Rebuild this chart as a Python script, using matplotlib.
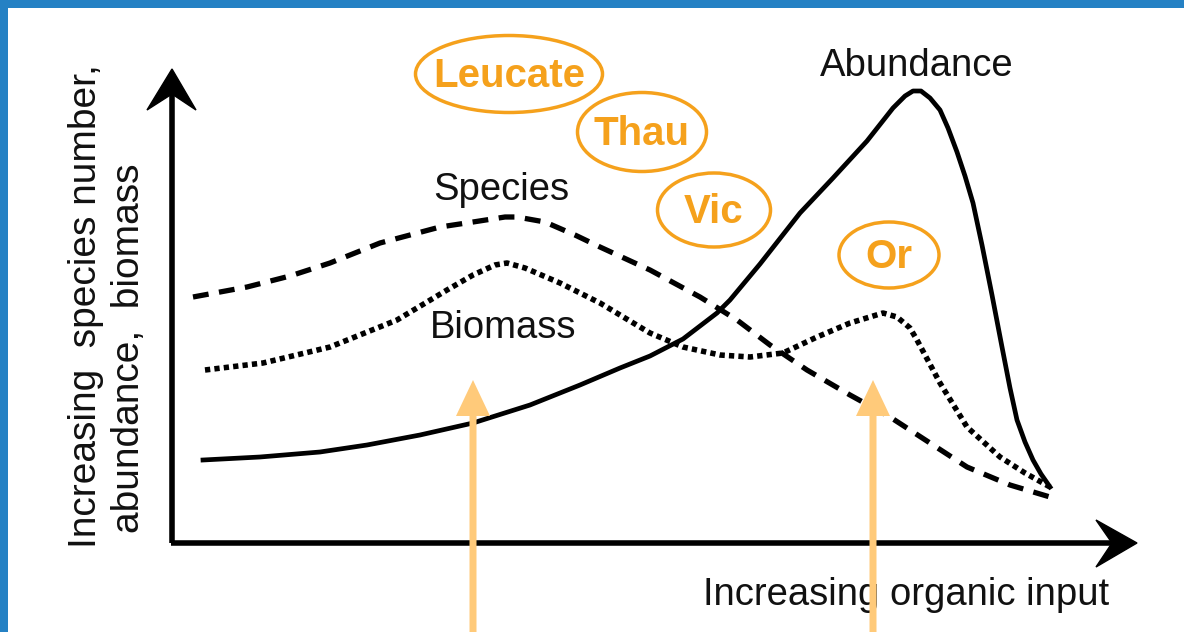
import matplotlib
matplotlib.use("Agg")
import matplotlib.pyplot as plt
from matplotlib.patches import Ellipse, Polygon, Rectangle, FancyArrow

plt.rcParams['font.family'] = ['Liberation Sans', 'DejaVu Sans']

# ---- data (diagram coordinates; x right, y down) ----
abund_x = [203, 260, 320, 367, 420, 473, 530, 580, 620, 650, 683, 717, 730, 760, 800, 833, 867,
           893, 905, 913, 921, 930, 940, 948, 957, 965, 973, 982, 992, 1002, 1010, 1017, 1025,
           1033, 1041, 1050]
abund_y = [460, 457, 452, 445, 435, 423, 405, 385, 368, 356, 339, 313, 300, 264, 213, 178, 141,
           108, 96, 91, 91, 98, 110, 128, 152, 176, 203, 245, 295, 347, 388, 420, 442,
           460, 474, 487]

species_x = [193, 247, 290, 330, 380, 440, 473, 505, 517, 545, 575, 600, 650, 700, 737, 770, 807,
             850, 890, 930, 967, 1010, 1050]
species_y = [297, 287, 276, 263, 243, 227, 222, 217, 217, 222, 235, 247, 270, 297, 320, 345, 370,
             395, 417, 443, 467, 485, 497]

biomass_x = [205, 263, 330, 397, 447, 473, 495, 507, 525, 560, 600, 650, 683, 720, 750, 783, 817,
             850, 883, 897, 910, 917, 940, 967, 1000, 1025, 1050]
biomass_y = [370, 363, 347, 320, 290, 275, 265, 263, 268, 283, 303, 333, 347, 355, 357, 353, 337,
             323, 313, 317, 328, 340, 383, 427, 457, 473, 487]

curve_labels = ["Abundance", "Species", "Biomass"]
curve_label_pos = [(917, 66), (501, 190), (503, 328)]

sites = ["Leucate", "Thau", "Vic", "Or"]
site_centers = [(509, 74), (642, 132), (714, 210), (889, 255)]
site_sizes = [(187, 77), (129, 79), (113, 74), (100, 66)]

arrow_x = [473, 873]
arrow_tip_y = 380

xlabel = "Increasing organic input"
ylabel_lines = ["Increasing  species number,", "abundance,  biomass"]

ORANGE = "#F5A11C"
LIGHT = "#FFCA7A"
BLUE = "#2581C4"

W, H = 1184, 632
fig = plt.figure(figsize=(W / 100, H / 100), dpi=100)
ax = fig.add_axes([0, 0, 1, 1])
ax.set_xlim(0, W)
ax.set_ylim(H, 0)
ax.axis("off")

# axes lines with arrowheads
ax.plot([172, 172], [543, 90], color="black", lw=4.0, solid_capstyle="butt")
ax.plot([170.5, 1115], [543, 543], color="black", lw=4.0, solid_capstyle="butt")
ax.add_patch(Polygon([(172, 69), (147, 110), (172, 94), (196, 110)], closed=True,
                     facecolor="black", edgecolor="black", lw=1))
ax.add_patch(Polygon([(1137, 543), (1096, 520), (1112, 543), (1096, 567)], closed=True,
                     facecolor="black", edgecolor="black", lw=1))

# curves
ax.plot(abund_x, abund_y, color="black", lw=3.4, solid_joinstyle="round")
ax.plot(species_x, species_y, color="black", lw=3.8, dashes=(3.0, 2.0), dash_capstyle="butt")
ax.plot(biomass_x, biomass_y, color="black", lw=4.0, dashes=(0.95, 0.75), dash_capstyle="butt")

for t, (x, y) in zip(curve_labels, curve_label_pos):
    ax.text(x, y, t, fontsize=27.5, ha="center", va="center", color="#111111")

ax.text(906, 595, xlabel, fontsize=27.5, ha="center", va="center", color="#111111")
ax.text(86, 548, ylabel_lines[0], fontsize=28, rotation=90, rotation_mode="anchor",
        ha="left", va="center", color="#111111")
ax.text(129, 533, ylabel_lines[1], fontsize=28, rotation=90, rotation_mode="anchor",
        ha="left", va="center", color="#111111")

# site ellipses
for name, (cx, cy), (w, h) in zip(sites, site_centers, site_sizes):
    ax.add_patch(Ellipse((cx, cy), w, h, facecolor="none", edgecolor=ORANGE, lw=2.5))
    ax.text(cx, cy + 2, name, fontsize=29, fontweight="bold", color=ORANGE,
            ha="center", va="center")

# light orange arrows
for xa in arrow_x:
    ax.add_patch(FancyArrow(xa, H + 5, 0, arrow_tip_y - H - 5, width=7, head_width=34,
                            head_length=36, length_includes_head=True,
                            facecolor=LIGHT, edgecolor="none", zorder=5))

# blue frame (top and left)
fig.patches.append(Rectangle((0, 1 - 8 / H), 1, 8 / H, transform=fig.transFigure,
                             facecolor=BLUE, edgecolor="none", zorder=10))
fig.patches.append(Rectangle((0, 0), 8 / W, 1, transform=fig.transFigure,
                             facecolor=BLUE, edgecolor="none", zorder=10))

fig.savefig("out.png", dpi=100)
